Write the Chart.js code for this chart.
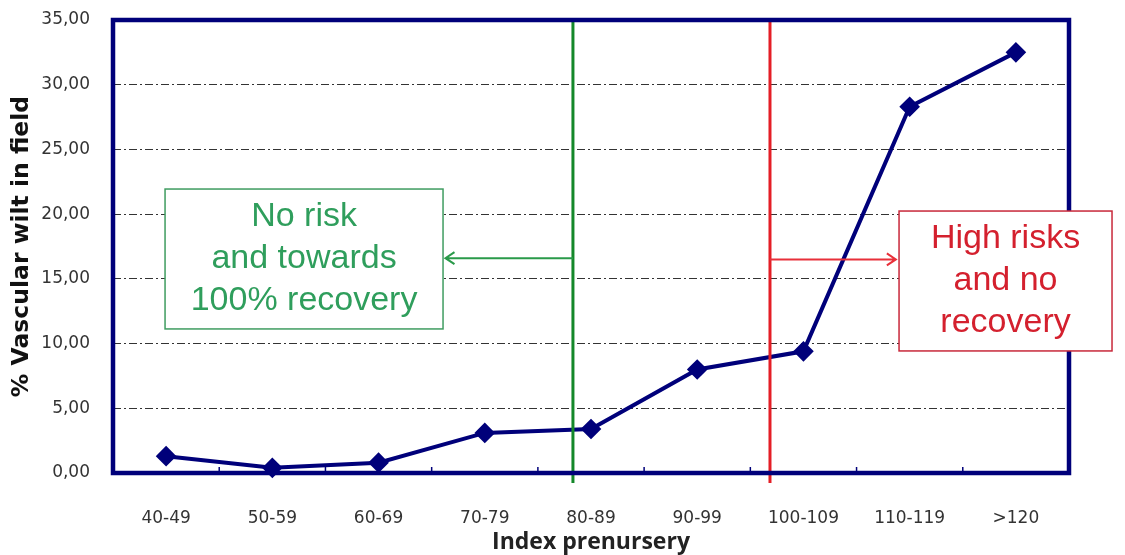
<!DOCTYPE html>
<html lang="en">
<head>
    <meta charset="UTF-8">
    <title>Vascular wilt vs index prenursery</title>
    <script src="https://cdn.jsdelivr.net/npm/chart.js"></script>
    <style>
        html, body { margin: 0; padding: 0; background: #fff; }
        #wrap { width: 1125px; height: 555px; }
    </style>
</head>
<body>
    <div id="wrap"><canvas id="wiltChart" width="1125" height="555"></canvas></div>

    <script>
        // data
        const categories = ["40-49", "50-59", "60-69", "70-79", "80-89", "90-99", "100-109", "110-119", ">120"];
        const wiltValues = [1.3, 0.4, 0.8, 3.1, 3.4, 8.0, 9.4, 28.3, 32.5];
        const yTicks = [0, 5, 10, 15, 20, 25, 30, 35];
        const greenText = ["No risk", "and towards", "100% recovery"];
        const redText = ["High risks", "and no", "recovery"];

        const navy = "#00007a";

        // frame, threshold lines, boxes and arrows
        const overlayPlugin = {
            id: "overlay",
            afterDraw(chart, args, opts) {
                const ctx = chart.ctx;
                const x = chart.scales.x, y = chart.scales.y;
                const area = chart.chartArea;
                ctx.save();

                // threshold lines
                opts.lines.forEach(l => {
                    const px = x.getPixelForValue(l.at);
                    ctx.strokeStyle = l.color;
                    ctx.lineWidth = 3;
                    ctx.beginPath();
                    ctx.moveTo(px, area.top);
                    ctx.lineTo(px, area.bottom + 10);
                    ctx.stroke();
                });

                // frame
                ctx.strokeStyle = navy;
                ctx.lineWidth = 4.5;
                ctx.strokeRect(area.left, area.top, area.right - area.left, area.bottom - area.top);

                // small inner ticks between categories
                ctx.lineWidth = 1.5;
                for (let i = 0; i < categories.length - 1; i++) {
                    const px = x.getPixelForValue(i + 0.5);
                    ctx.beginPath();
                    ctx.moveTo(px, area.bottom);
                    ctx.lineTo(px, area.bottom - 6);
                    ctx.stroke();
                }

                // arrows
                opts.arrows.forEach(a => {
                    const x1 = x.getPixelForValue(a.from), x2 = x.getPixelForValue(a.to);
                    const py = y.getPixelForValue(a.y);
                    const dir = x2 > x1 ? 1 : -1;
                    ctx.strokeStyle = a.color;
                    ctx.lineWidth = 2;
                    ctx.beginPath();
                    ctx.moveTo(x1, py);
                    ctx.lineTo(x2, py);
                    ctx.moveTo(x2 - dir * 9, py - 6);
                    ctx.lineTo(x2, py);
                    ctx.lineTo(x2 - dir * 9, py + 6);
                    ctx.stroke();
                });

                // boxes
                opts.boxes.forEach(b => {
                    const l = x.getPixelForValue(b.x0), r = x.getPixelForValue(b.x1);
                    const t = y.getPixelForValue(b.y0), bt = y.getPixelForValue(b.y1);
                    ctx.fillStyle = "#fff";
                    ctx.fillRect(l, t, r - l, bt - t);
                    ctx.strokeStyle = b.border;
                    ctx.lineWidth = 1.5;
                    ctx.strokeRect(l, t, r - l, bt - t);
                    ctx.fillStyle = b.color;
                    ctx.font = "34px 'Liberation Sans', Arial, sans-serif";
                    ctx.textAlign = "center";
                    ctx.textBaseline = "middle";
                    const cx = (l + r) / 2, cy = (t + bt) / 2;
                    b.text.forEach((line, i) => {
                        ctx.fillText(line, cx, cy + (i - 1) * 42);
                    });
                });

                ctx.restore();
            }
        };

        new Chart(document.getElementById("wiltChart").getContext("2d"), {
            type: "line",
            data: {
                labels: categories,
                datasets: [{
                    label: "% Vascular wilt in field",
                    data: wiltValues,
                    borderColor: navy,
                    backgroundColor: navy,
                    borderWidth: 4,
                    pointStyle: "rectRot",
                    pointRadius: 7.5,
                    pointHoverRadius: 7.5,
                    tension: 0,
                    clip: false
                }]
            },
            plugins: [overlayPlugin],
            options: {
                responsive: false,
                animation: false,
                devicePixelRatio: 1,
                layout: { padding: { left: 0, top: 20, right: 56, bottom: 0 } },
                plugins: {
                    legend: { display: false },
                    tooltip: { enabled: false },
                    overlay: {
                        lines: [
                            { at: 3.83, color: "#14882a" },
                            { at: 5.685, color: "#e41e26" }
                        ],
                        arrows: [
                            { from: 3.83, to: 2.63, y: 16.6, color: "#2a9a4a" },
                            { from: 5.685, to: 6.87, y: 16.5, color: "#e8303a" }
                        ],
                        boxes: [
                            { x0: -0.01, x1: 2.607, y0: 21.94, y1: 11.13, text: greenText, color: "#2f9e5c", border: "#3f9c60" },
                            { x0: 6.90, x1: 8.905, y0: 20.24, y1: 9.43, text: redText, color: "#d4202e", border: "#c8283a" }
                        ]
                    }
                },
                scales: {
                    x: {
                        offset: true,
                        afterFit: s => { s.height = 82; s.paddingLeft = 0; s.paddingRight = 0; },
                        grid: { display: false },
                        border: { display: false },
                        ticks: {
                            padding: 27,
                            color: "#333",
                            font: { family: "'DejaVu Sans', Verdana, sans-serif", size: 17 },
                            maxRotation: 0
                        },
                        title: {
                            display: true,
                            text: "Index prenursery",
                            color: "#222",
                            font: { family: "'Open Sans', sans-serif", size: 23, weight: "bold", lineHeight: 1 },
                            padding: { top: 0, bottom: 1 }
                        }
                    },
                    y: {
                        min: 0,
                        max: 35,
                        afterFit: s => { s.width = 113; s.paddingTop = 0; s.paddingBottom = 0; },
                        afterBuildTicks: s => { s.ticks = yTicks.map(v => ({ value: v })); },
                        grid: {
                            drawTicks: false,
                            lineWidth: 1,
                            color: ctx => (ctx.tick && (ctx.tick.value === 0 || ctx.tick.value === 35)) ? "rgba(0,0,0,0)" : "#333"
                        },
                        border: { display: false, dash: [8, 3, 2, 3] },
                        ticks: {
                            padding: 23,
                            color: "#333",
                            font: { family: "'DejaVu Sans', Verdana, sans-serif", size: 17 },
                            callback: v => v.toFixed(2).replace(".", ",")
                        },
                        title: {
                            display: true,
                            text: "% Vascular wilt in field",
                            color: "#111",
                            font: { family: "'DejaVu Sans', Verdana, sans-serif", size: 23.5, weight: "bold", lineHeight: 1 },
                            padding: { top: 10, bottom: 0 }
                        }
                    }
                }
            }
        });
    </script>
</body>
</html>
